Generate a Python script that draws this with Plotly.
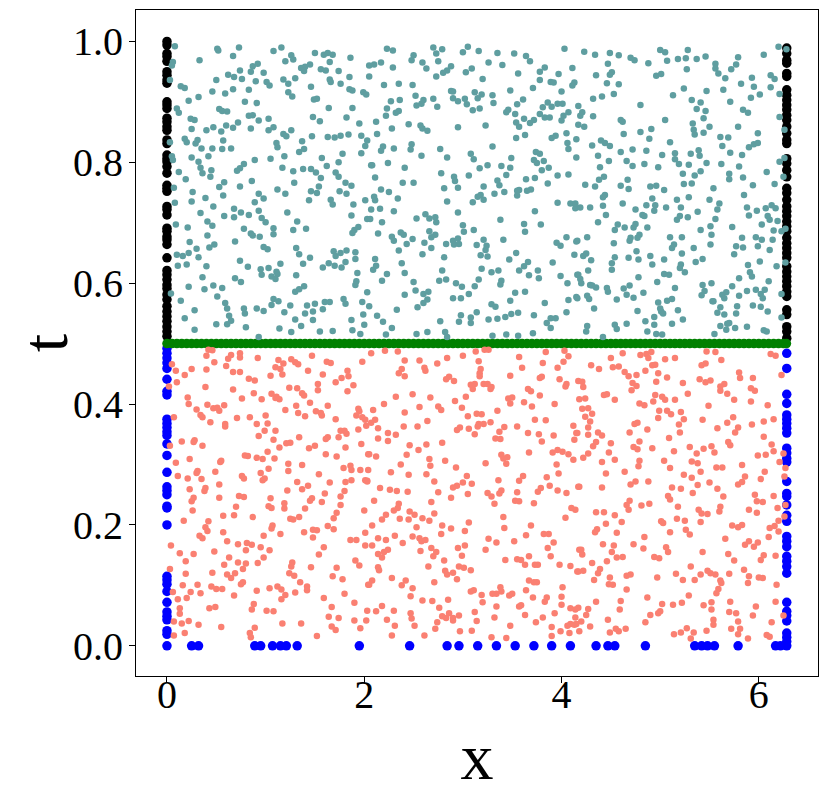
import plotly.graph_objects as go

# ---------------- data ----------------
X_MIN, X_MAX = 0.0, 6.2832
T_MID = 0.5
T_MIN = 0.0

# interior collocation points, t > 0.5  (x, t)
teal_xt = [
(0.08,0.992),(0.51,0.988),(0.52,0.985),(0.73,0.990),(1.08,0.984),(1.16,0.990),(1.50,0.981),(1.59,0.978),(1.63,0.981),(1.68,0.978),(1.26,0.977),(1.28,0.970),(1.20,0.967),(0.67,0.976),(0.33,0.969),(0.06,0.966),(0.05,0.960),(1.65,0.966),(1.86,0.973),(2.05,0.960),(0.92,0.963),(0.87,0.959),(0.85,0.950),(0.74,0.952),(0.62,0.945),(0.68,0.941),(0.76,0.938),(0.98,0.948),(1.36,0.956),(1.40,0.958),(1.45,0.962),(1.39,0.951),(1.56,0.954),(1.61,0.952),(1.74,0.951),(1.85,0.941),(2.05,0.942),(0.03,0.936),(0.50,0.936),(0.90,0.934),(1.01,0.933),(1.04,0.927),(1.18,0.937),(1.23,0.930),(1.30,0.939),(1.65,0.937),(1.66,0.933),(1.76,0.930),(1.46,0.925),(0.14,0.926),(0.18,0.923),(0.67,0.921),(0.83,0.920),(0.46,0.917),(0.59,0.914),(1.23,0.916),(1.27,0.909),(1.85,0.921),(1.88,0.919),(1.99,0.916),(2.02,0.912),(0.32,0.908),(0.22,0.902),(1.49,0.904),(1.52,0.905),(0.79,0.900),(0.91,0.898),(0.10,0.889),(0.12,0.882),(0.53,0.888),(0.56,0.885),(0.61,0.884),(1.64,0.890),(1.88,0.890),(0.83,0.877),(0.87,0.878),(0.93,0.869),(1.03,0.872),(1.48,0.875),(1.55,0.868),(1.82,0.874),(1.95,0.864),(0.24,0.872),(0.28,0.870),(0.72,0.866),(0.25,0.855),(0.40,0.853),(0.47,0.858),(0.55,0.851),(0.60,0.861),(0.67,0.857),(0.85,0.856),(1.03,0.853),(1.08,0.858),(1.18,0.847),(1.21,0.843),(1.26,0.853),(1.47,0.843),(1.63,0.842),(1.70,0.841),(1.76,0.844),(1.84,0.846),(1.97,0.844),(2.03,0.836),(0.18,0.839),(0.20,0.833),(0.29,0.831),(0.31,0.837),(0.03,0.833),(0.35,0.823),(0.46,0.823),(0.56,0.822),(0.65,0.823),(0.57,0.836),(1.11,0.832),(1.12,0.825),(1.37,0.835),(1.39,0.822),(1.34,0.817),(1.78,0.814),(1.97,0.815),(2.01,0.827),(0.25,0.808),(0.32,0.801),(0.42,0.810),(0.34,0.791),(0.36,0.782),(0.45,0.787),(0.44,0.776),(0.05,0.810),(0.06,0.804),(0.89,0.804),(1.05,0.806),(1.19,0.810),(1.57,0.807),(1.62,0.794),(1.74,0.800),(1.71,0.783),(1.74,0.776),(1.81,0.766),(1.87,0.761),(2.07,0.795),(0.78,0.797),(0.74,0.790),(0.71,0.786),(1.17,0.791),(1.28,0.785),(1.38,0.789),(1.46,0.789),(1.51,0.783),(1.56,0.774),(0.12,0.784),(0.19,0.772),(0.58,0.767),(0.86,0.769),(1.29,0.766),(0.74,0.760),(0.53,0.759),(1.12,0.755),(1.54,0.760),(0.07,0.758),
(2.23,0.988),(2.29,0.985),(2.70,0.990),(2.73,0.980),(2.79,0.987),(3.05,0.991),(3.00,0.982),(3.16,0.984),(3.35,0.981),(3.52,0.980),(3.64,0.976),(3.68,0.967),(4.03,0.988),(2.50,0.977),(2.48,0.969),(2.59,0.965),(2.63,0.955),(2.75,0.967),(2.17,0.965),(2.10,0.962),(2.29,0.957),(3.26,0.965),(3.40,0.961),(3.56,0.947),(3.78,0.950),(3.83,0.957),(3.97,0.946),(4.11,0.956),(3.03,0.949),(3.09,0.955),(2.88,0.959),(2.84,0.952),(2.80,0.948),(2.73,0.942),(3.20,0.938),(3.78,0.936),(3.89,0.933),(3.92,0.932),(4.13,0.932),(4.11,0.927),(2.35,0.930),(2.49,0.928),(2.20,0.928),(2.88,0.918),(2.90,0.917),(3.12,0.916),(3.19,0.912),(3.15,0.906),(3.30,0.911),(3.48,0.919),(3.71,0.923),(4.00,0.917),(2.52,0.910),(2.90,0.906),(2.95,0.901),(3.02,0.905),(3.04,0.896),(2.70,0.905),(2.74,0.892),(2.60,0.903),(2.58,0.897),(2.53,0.894),(2.27,0.901),(2.36,0.903),(3.31,0.898),(3.55,0.896),(3.61,0.904),(3.86,0.899),(3.90,0.892),(3.96,0.897),(4.01,0.897),(3.81,0.891),(4.17,0.893),(2.23,0.889),(2.22,0.877),(2.32,0.882),(2.35,0.885),(3.10,0.886),(3.17,0.889),(3.46,0.887),(3.44,0.883),(3.53,0.880),(3.62,0.872),(3.72,0.870),(3.78,0.880),(3.83,0.874),(3.88,0.874),(4.02,0.877),(4.00,0.869),(4.07,0.883),(4.19,0.877),(2.12,0.867),(2.45,0.863),(2.28,0.856),(2.57,0.861),(2.59,0.856),(2.64,0.852),(2.95,0.858),(3.23,0.861),(3.54,0.866),(3.57,0.859),(3.68,0.865),(4.17,0.862),(2.13,0.847),(3.54,0.840),(3.63,0.845),(3.90,0.840),(3.94,0.844),(4.05,0.848),(4.15,0.838),(2.19,0.826),(2.17,0.819),(2.30,0.823),(2.48,0.830),(2.47,0.821),(2.77,0.822),(2.58,0.811),(2.84,0.808),(3.30,0.826),(3.08,0.814),(3.11,0.805),(3.49,0.807),(3.74,0.817),(3.78,0.814),(3.72,0.804),(3.75,0.799),(3.82,0.802),(4.06,0.832),(4.07,0.822),(4.15,0.808),(2.08,0.795),(2.24,0.799),(2.41,0.791),(2.78,0.782),(3.17,0.790),(3.25,0.795),(3.39,0.794),(3.48,0.791),(3.44,0.779),(3.80,0.787),(3.87,0.791),(2.11,0.775),(2.39,0.766),(2.50,0.766),(2.91,0.776),(2.92,0.769),(3.06,0.778),(3.35,0.770),(3.37,0.762),(3.64,0.772),(3.73,0.774),(3.86,0.765),(3.96,0.778),(4.07,0.780),(2.17,0.755),(2.81,0.757),(2.95,0.758),(3.21,0.760),(3.57,0.754),(3.69,0.755),
(4.23,0.983),(4.34,0.978),(4.49,0.981),(4.58,0.977),(4.70,0.973),(4.74,0.969),(4.88,0.964),(4.47,0.963),(4.51,0.949),(4.49,0.945),(4.35,0.944),(4.46,0.931),(4.58,0.929),(4.53,0.913),(4.32,0.905),(4.41,0.909),(5.00,0.986),(5.05,0.982),(5.07,0.968),(5.18,0.971),(5.26,0.972),(5.28,0.986),(5.27,0.954),(5.37,0.971),(5.46,0.975),(4.96,0.943),(5.01,0.946),(5.56,0.963),(5.56,0.955),(5.59,0.947),(5.66,0.939),(5.72,0.954),(5.77,0.962),(5.79,0.974),(5.82,0.930),(5.93,0.940),(5.95,0.925),(5.92,0.907),(6.01,0.912),(6.05,0.978),(6.12,0.944),(6.16,0.938),(6.12,0.924),(6.20,0.991),(6.28,0.987),(6.21,0.913),(5.24,0.922),(5.47,0.918),(5.64,0.920),(5.13,0.911),(5.32,0.903),(5.41,0.899),(5.71,0.900),(4.80,0.895),(5.37,0.888),(5.46,0.885),(5.84,0.887),(5.89,0.882),(4.21,0.883),(4.32,0.876),(4.23,0.859),(4.60,0.870),(4.62,0.867),(5.05,0.870),(5.44,0.873),(5.33,0.864),(5.34,0.854),(5.35,0.846),(5.44,0.849),(5.50,0.859),(5.79,0.859),(6.21,0.875),(6.26,0.854),(4.63,0.847),(4.80,0.850),(4.91,0.855),(4.89,0.839),(5.10,0.833),(4.40,0.836),(4.44,0.832),(4.49,0.827),(4.31,0.828),(5.61,0.842),(5.69,0.841),(5.63,0.827),(5.90,0.825),(5.95,0.830),(5.99,0.832),(5.99,0.848),(4.37,0.811),(4.48,0.802),(4.60,0.817),(4.72,0.821),(4.86,0.819),(5.02,0.812),(5.15,0.815),(5.15,0.805),(5.19,0.797),(5.31,0.814),(5.39,0.820),(5.40,0.811),(5.47,0.799),(5.62,0.797),(5.71,0.816),(5.83,0.812),(4.39,0.792),(4.66,0.802),(4.72,0.794),(4.84,0.797),(4.98,0.792),(5.29,0.796),(5.41,0.785),(5.23,0.781),(5.35,0.778),(5.70,0.781),(5.70,0.772),(5.80,0.793),(5.84,0.775),(6.08,0.784),(6.21,0.801),(6.26,0.807),(6.25,0.776),(4.24,0.763),(4.34,0.760),(4.38,0.771),(4.43,0.776),(4.60,0.761),(4.67,0.771),(4.68,0.756),(4.90,0.760),(4.96,0.761),(5.24,0.764),(5.32,0.765),(5.54,0.757),(5.94,0.762),(6.16,0.764),
(0.26,0.751),(0.39,0.741),(0.57,0.745),(0.93,0.748),(0.98,0.740),(0.89,0.734),(1.20,0.748),(1.46,0.752),(1.52,0.749),(1.44,0.737),(1.66,0.738),(1.68,0.730),(1.75,0.752),(1.82,0.748),(1.89,0.730),(2.01,0.737),(0.08,0.733),(0.25,0.735),(0.34,0.716),(0.47,0.727),(0.58,0.711),(0.68,0.723),(0.68,0.709),(0.75,0.717),(0.83,0.713),(0.93,0.720),(0.96,0.708),(1.00,0.701),(1.22,0.717),(1.32,0.702),(1.28,0.688),(1.41,0.690),(1.87,0.712),(1.94,0.693),(1.90,0.688),(1.88,0.683),(2.03,0.706),(0.09,0.697),(0.21,0.692),(0.41,0.702),(0.46,0.695),(0.78,0.690),(0.85,0.682),(0.87,0.679),(0.94,0.677),(1.08,0.691),(1.08,0.681),(0.41,0.679),(0.23,0.668),(0.30,0.657),(0.43,0.659),(0.48,0.664),(0.69,0.669),(0.98,0.660),(1.02,0.656),(1.31,0.658),(1.34,0.648),(1.45,0.642),(1.69,0.653),(1.71,0.645),(1.76,0.650),(1.82,0.654),(1.91,0.651),(0.10,0.647),(0.16,0.645),(0.22,0.650),(0.32,0.643),(0.11,0.629),(0.20,0.631),(0.40,0.628),(0.74,0.637),(0.82,0.627),(0.95,0.623),(0.96,0.614),(1.03,0.625),(1.11,0.619),(1.15,0.632),(1.12,0.615),(1.06,0.611),(1.10,0.607),(1.38,0.632),(1.58,0.626),(1.64,0.633),(1.70,0.629),(1.77,0.626),(1.81,0.635),(1.91,0.640),(1.93,0.617),(0.36,0.610),(0.69,0.608),(0.75,0.602),(1.31,0.613),(1.92,0.603),(1.91,0.597),(0.04,0.583),(0.22,0.594),(0.38,0.590),(0.47,0.596),(0.56,0.592),(0.51,0.578),(1.30,0.586),(1.34,0.590),(1.39,0.595),(2.03,0.585),(0.14,0.571),(0.28,0.555),(0.59,0.567),(0.61,0.558),(0.78,0.558),(0.79,0.550),(0.91,0.558),(0.98,0.554),(1.06,0.564),(1.08,0.574),(1.13,0.570),(1.19,0.552),(1.25,0.563),(1.42,0.563),(1.50,0.566),(1.60,0.569),(1.65,0.569),(1.48,0.553),(1.58,0.557),(1.40,0.550),(1.79,0.574),(1.81,0.566),(1.98,0.569),(0.18,0.542),(0.28,0.523),(0.50,0.532),(0.63,0.546),(0.65,0.538),(0.61,0.532),(0.80,0.527),(0.93,0.511),(1.14,0.525),(1.26,0.519),(1.30,0.540),(1.36,0.529),(1.48,0.539),(1.55,0.520),(1.68,0.521),(1.87,0.539),(1.88,0.522),(1.96,0.516),(1.99,0.548),(2.00,0.531),
(2.25,0.751),(2.34,0.740),(2.10,0.743),(2.11,0.737),(2.84,0.735),(3.10,0.734),(3.15,0.743),(3.18,0.746),(3.21,0.738),(3.32,0.748),(3.42,0.751),(3.55,0.753),(3.65,0.753),(3.55,0.745),(3.96,0.733),(4.09,0.732),(4.14,0.724),(2.07,0.722),(2.16,0.723),(2.30,0.719),(2.06,0.706),(2.18,0.701),(2.53,0.707),(2.62,0.714),(2.66,0.707),(2.72,0.709),(2.73,0.701),(2.95,0.717),(3.00,0.696),(3.11,0.688),(3.01,0.685),(3.38,0.705),(3.62,0.698),(3.63,0.685),(3.73,0.719),(3.79,0.697),(2.14,0.682),(2.28,0.677),(2.30,0.670),(2.37,0.684),(2.40,0.680),(2.49,0.673),(2.43,0.665),(2.35,0.654),(2.61,0.667),(2.66,0.686),(2.72,0.680),(2.68,0.676),(2.68,0.658),(2.59,0.648),(2.83,0.665),(2.90,0.670),(2.91,0.664),(2.95,0.674),(2.96,0.665),(3.14,0.663),(3.21,0.672),(3.24,0.662),(3.23,0.655),(3.18,0.646),(3.25,0.644),(3.41,0.672),(3.95,0.667),(3.99,0.662),(4.05,0.676),(4.16,0.670),(2.11,0.640),(2.12,0.629),(2.09,0.622),(2.23,0.615),(2.18,0.604),(2.38,0.633),(2.41,0.617),(2.81,0.643),(2.79,0.621),(2.76,0.604),(2.83,0.606),(3.19,0.624),(3.29,0.618),(3.36,0.621),(3.39,0.604),(3.38,0.598),(3.47,0.639),(3.54,0.650),(3.62,0.628),(3.57,0.621),(3.66,0.635),(3.67,0.613),(3.76,0.621),(3.77,0.608),(3.91,0.634),(3.99,0.612),(4.13,0.647),(4.16,0.614),(4.06,0.600),(2.50,0.602),(2.52,0.588),(2.60,0.582),(2.65,0.586),(2.64,0.573),(2.60,0.567),(2.54,0.560),(2.41,0.581),(2.05,0.562),(2.33,0.556),(2.93,0.600),(2.99,0.594),(3.06,0.582),(3.12,0.595),(3.16,0.606),(2.90,0.575),(2.98,0.575),(3.48,0.571),(3.53,0.584),(3.63,0.586),(3.83,0.567),(4.07,0.572),(4.16,0.575),(4.05,0.552),(2.13,0.546),(2.19,0.536),(2.28,0.526),(2.22,0.515),(2.53,0.516),(2.64,0.519),(2.77,0.537),(2.82,0.519),(2.84,0.511),(2.98,0.547),(2.96,0.536),(3.08,0.543),(3.08,0.534),(3.14,0.552),(3.29,0.565),(3.33,0.561),(3.26,0.540),(3.35,0.541),(3.43,0.544),(3.49,0.549),(3.56,0.551),(3.72,0.547),(3.30,0.513),(3.44,0.515),(3.56,0.513),(3.71,0.517),(3.85,0.534),(3.89,0.542),(3.94,0.542),(3.89,0.526),
(4.44,0.746),(4.42,0.742),(5.04,0.754),(4.14,0.732),(4.19,0.725),(4.29,0.725),(4.42,0.728),(4.45,0.713),(4.62,0.732),(4.75,0.722),(4.82,0.713),(4.84,0.711),(4.86,0.729),(4.92,0.740),(4.95,0.729),(4.94,0.720),(5.06,0.725),(5.17,0.738),(5.21,0.725),(5.29,0.742),(5.17,0.705),(5.20,0.711),(5.28,0.709),(5.38,0.718),(5.50,0.738),(5.60,0.732),(5.58,0.722),(5.56,0.706),(5.51,0.694),(5.52,0.680),(5.41,0.688),(5.73,0.693),(5.85,0.746),(5.88,0.725),(5.98,0.720),(6.07,0.724),(6.13,0.729),(6.17,0.724),(6.09,0.711),(6.11,0.705),(6.19,0.703),(5.90,0.712),(6.03,0.697),(6.15,0.687),(6.27,0.690),(6.23,0.686),(4.37,0.701),(4.54,0.688),(4.57,0.697),(4.64,0.692),(4.75,0.698),(4.73,0.692),(4.79,0.680),(4.70,0.675),(4.69,0.670),(4.77,0.675),(4.87,0.692),(5.10,0.676),(5.22,0.676),(4.26,0.676),(4.15,0.669),(4.53,0.666),(5.14,0.664),(5.12,0.658),(5.34,0.658),(5.51,0.664),(5.83,0.675),(5.97,0.676),(6.03,0.672),(5.99,0.661),(6.14,0.672),(5.77,0.661),(5.75,0.648),(5.84,0.659),(6.11,0.655),(4.22,0.645),(4.25,0.649),(4.30,0.638),(4.54,0.643),(4.51,0.633),(4.51,0.622),(4.68,0.642),(4.76,0.653),(4.78,0.639),(4.90,0.645),(4.92,0.631),(5.04,0.639),(5.22,0.649),(5.21,0.631),(5.20,0.625),(5.25,0.618),(5.36,0.635),(5.43,0.640),(6.01,0.636),(5.89,0.630),(5.91,0.618),(5.93,0.611),(6.18,0.628),(6.27,0.634),(4.17,0.614),(4.19,0.607),(4.20,0.600),(4.27,0.621),(4.29,0.597),(4.35,0.593),(4.31,0.596),(4.15,0.577),(4.26,0.579),(4.28,0.574),(4.46,0.592),(4.47,0.586),(4.56,0.573),(4.63,0.591),(4.69,0.596),(4.66,0.581),(4.73,0.576),(4.78,0.610),(4.83,0.584),(4.97,0.602),(5.04,0.615),(5.09,0.614),(5.15,0.592),(5.43,0.597),(5.52,0.600),(5.45,0.587),(5.42,0.580),(5.54,0.570),(5.63,0.581),(5.67,0.585),(5.65,0.575),(5.73,0.595),(5.80,0.608),(5.80,0.579),(5.88,0.587),(5.97,0.589),(6.02,0.582),(6.06,0.589),(6.04,0.575),(6.10,0.603),(6.23,0.582),(4.33,0.558),(4.54,0.531),(4.56,0.524),(4.66,0.533),(4.77,0.554),(4.85,0.537),(4.87,0.520),(4.94,0.544),(4.94,0.531),(4.96,0.516),(4.98,0.568),(5.00,0.558),(5.01,0.553),(5.03,0.550),(5.07,0.571),(5.12,0.574),(5.18,0.555),(5.23,0.540),(5.12,0.533),(5.02,0.515),(5.53,0.570),(5.55,0.516),(5.58,0.551),(5.61,0.560),(5.65,0.548),(5.61,0.529),(5.68,0.533),(5.70,0.534),(5.67,0.523),(5.76,0.526),(5.77,0.550),(5.78,0.562),(5.88,0.528),(5.94,0.563),(6.02,0.561),(6.09,0.553),(6.23,0.543),(6.05,0.522),(6.08,0.520),(4.26,0.529),(4.25,0.520),(4.42,0.511),
]

# interior collocation points, t < 0.5  (x, t)
salmon_xt = [
(0.42,0.490),(0.46,0.489),(0.40,0.480),(0.62,0.475),(0.65,0.481),(0.74,0.484),(0.74,0.477),(0.92,0.476),(0.05,0.466),(0.09,0.455),(0.25,0.458),(0.18,0.448),(0.40,0.457),(0.48,0.469),(0.60,0.463),(0.67,0.453),(0.74,0.453),(1.10,0.461),(1.13,0.473),(1.18,0.467),(1.15,0.458),(1.17,0.449),(1.05,0.447),(1.26,0.474),(1.30,0.469),(1.33,0.466),(1.43,0.455),(1.47,0.480),(1.62,0.470),(1.66,0.468),(1.58,0.449),(1.83,0.455),(1.84,0.446),(1.98,0.470),(1.77,0.443),(1.71,0.436),(1.89,0.431),(1.83,0.421),(0.10,0.436),(0.02,0.429),(0.39,0.428),(0.67,0.424),(0.83,0.442),(0.89,0.439),(0.88,0.418),(0.96,0.408),(1.06,0.417),(1.11,0.412),(1.14,0.408),(1.24,0.427),(1.32,0.426),(1.37,0.418),(1.39,0.414),(1.53,0.433),(1.53,0.423),(0.21,0.411),(0.22,0.400),(0.30,0.391),(0.41,0.399),(0.47,0.393),(0.53,0.389),(0.51,0.394),(0.58,0.398),(0.76,0.409),(0.07,0.378),(0.34,0.382),(0.36,0.378),(0.44,0.370),(0.59,0.367),(0.59,0.363),(0.71,0.377),(0.84,0.378),(0.91,0.367),(1.00,0.381),(1.02,0.368),(1.10,0.410),(1.20,0.390),(1.31,0.397),(1.33,0.385),(1.40,0.380),(1.45,0.402),(1.51,0.388),(1.56,0.385),(1.57,0.381),(1.63,0.397),(1.71,0.375),(1.94,0.392),(1.95,0.388),(1.92,0.381),(1.98,0.378),(2.01,0.374),(2.02,0.364),(1.94,0.358),(1.76,0.356),(1.80,0.356),(1.82,0.351),(1.74,0.345),(1.63,0.345),(1.61,0.342),(1.34,0.345),(1.25,0.336),(1.21,0.335),(1.14,0.328),(1.08,0.341),(0.99,0.356),(0.93,0.347),(1.10,0.356),(0.15,0.338),(0.28,0.340),(0.27,0.337),(0.36,0.331),(0.03,0.331),(0.23,0.309),(0.09,0.303),(0.54,0.304),(0.55,0.306),(0.79,0.315),(0.82,0.314),(0.91,0.311),(0.97,0.309),(1.02,0.321),(1.09,0.310),(1.23,0.301),(1.23,0.289),(1.37,0.299),(1.44,0.327),(1.50,0.331),(1.61,0.317),(1.72,0.313),(1.81,0.328),(1.97,0.334),(2.04,0.317),(0.11,0.281),(0.21,0.277),(0.30,0.286),(0.31,0.289),(0.35,0.276),(0.49,0.288),(0.53,0.267),(0.76,0.281),(0.78,0.277),(0.95,0.286),(1.03,0.293),(0.99,0.277),(0.97,0.274),(0.23,0.259),(0.39,0.261),(0.38,0.256),(0.27,0.245),(0.53,0.245),(0.73,0.248),(0.78,0.246),(1.22,0.257),(1.32,0.271),(1.37,0.259),(1.43,0.265),(1.54,0.284),(1.60,0.252),(1.65,0.270),(1.79,0.294),(1.86,0.298),(1.87,0.291),(1.96,0.291),(2.04,0.291),(1.81,0.271),(1.87,0.274),(2.01,0.274),(2.03,0.272),(1.80,0.256),(1.76,0.247),(1.47,0.244),(1.05,0.244),
(2.07,0.484),(2.21,0.488),(2.34,0.487),(2.41,0.472),(2.38,0.458),(2.35,0.451),(2.41,0.446),(2.56,0.472),(2.61,0.460),(2.62,0.455),(2.74,0.467),(2.84,0.476),(3.00,0.480),(3.13,0.487),(3.22,0.490),(3.26,0.490),(3.16,0.471),(3.18,0.458),(3.17,0.451),(3.17,0.446),(2.83,0.441),(2.86,0.445),(2.91,0.438),(3.08,0.432),(3.12,0.433),(3.10,0.425),(3.21,0.433),(3.25,0.433),(3.28,0.425),(3.29,0.428),(3.57,0.478),(3.60,0.460),(3.48,0.447),(3.81,0.468),(3.84,0.486),(4.03,0.488),(4.07,0.479),(4.02,0.470),(3.96,0.460),(3.78,0.443),(3.80,0.445),(3.98,0.441),(4.05,0.433),(4.04,0.429),(3.66,0.425),(3.69,0.421),(3.78,0.414),(4.17,0.438),(2.32,0.412),(2.49,0.416),(2.67,0.411),(2.20,0.400),(2.56,0.395),(2.75,0.396),(2.78,0.390),(2.92,0.405),(2.99,0.394),(3.03,0.412),(3.46,0.409),(3.48,0.401),(3.50,0.411),(3.62,0.403),(3.70,0.396),(3.93,0.400),(2.09,0.390),(2.41,0.386),(2.07,0.369),(2.11,0.374),(2.14,0.360),(2.24,0.352),(2.32,0.349),(2.14,0.343),(2.24,0.339),(2.40,0.363),(2.54,0.363),(2.64,0.372),(2.94,0.357),(2.97,0.361),(3.06,0.359),(3.05,0.380),(3.14,0.384),(3.19,0.383),(3.16,0.367),(3.15,0.363),(3.21,0.367),(3.28,0.370),(3.12,0.350),(3.35,0.389),(3.37,0.354),(3.42,0.362),(3.33,0.343),(3.38,0.342),(3.55,0.363),(3.66,0.352),(3.73,0.374),(3.77,0.350),(3.80,0.338),(3.84,0.373),(3.92,0.348),(4.12,0.364),(4.15,0.352),(4.13,0.341),(2.46,0.332),(2.55,0.324),(2.63,0.333),(2.79,0.336),(2.05,0.317),(2.12,0.313),(2.43,0.316),(2.37,0.300),(2.66,0.309),(2.67,0.298),(2.82,0.306),(2.93,0.295),(3.23,0.302),(3.39,0.316),(3.41,0.310),(3.45,0.312),(3.44,0.301),(3.67,0.320),(3.91,0.320),(3.96,0.324),(4.01,0.321),(4.07,0.317),(4.12,0.308),(3.95,0.300),(3.97,0.285),(2.27,0.287),(2.45,0.283),(2.63,0.284),(2.71,0.272),(3.04,0.281),(3.09,0.268),(3.00,0.270),(2.94,0.265),(2.90,0.262),(3.36,0.274),(3.57,0.273),(3.61,0.281),(3.85,0.279),(3.88,0.265),(2.16,0.261),(2.26,0.258),(2.33,0.256),(2.44,0.255),(2.75,0.254),(2.88,0.245),(3.05,0.251),(3.25,0.253),(3.29,0.247),(3.37,0.252),(3.39,0.257),(3.55,0.254),(3.76,0.255),(3.79,0.261),(3.96,0.257),(4.05,0.253),(4.17,0.263),(2.03,0.273),
(4.62,0.484),(4.80,0.481),(4.86,0.483),(4.91,0.486),(4.88,0.476),(4.50,0.476),(4.30,0.464),(4.38,0.458),(4.52,0.461),(4.58,0.462),(4.64,0.453),(4.68,0.446),(4.76,0.448),(4.85,0.455),(4.92,0.464),(4.95,0.465),(4.98,0.451),(5.05,0.474),(5.15,0.476),(5.07,0.444),(4.96,0.437),(4.72,0.435),(4.76,0.430),(4.71,0.423),(5.47,0.487),(5.56,0.486),(5.62,0.473),(5.42,0.464),(5.46,0.467),(5.40,0.441),(5.46,0.436),(5.51,0.439),(5.61,0.429),(5.65,0.433),(5.61,0.422),(5.68,0.417),(5.80,0.452),(5.81,0.443),(5.94,0.443),(5.92,0.426),(5.96,0.422),(6.12,0.483),(6.17,0.480),(6.23,0.448),(4.21,0.437),(4.22,0.428),(4.18,0.408),(4.24,0.409),(4.43,0.415),(4.46,0.416),(4.54,0.407),(4.79,0.401),(4.84,0.398),(4.93,0.404),(4.95,0.415),(5.02,0.412),(5.05,0.407),(5.15,0.407),(5.07,0.389),(4.99,0.389),(4.98,0.377),(5.11,0.383),(5.21,0.387),(5.24,0.375),(5.28,0.417),(5.23,0.435),(5.49,0.397),(5.43,0.374),(5.75,0.407),(5.92,0.404),(6.09,0.398),(4.21,0.392),(4.27,0.393),(4.31,0.384),(4.24,0.379),(4.29,0.371),(4.27,0.361),(4.16,0.352),(4.27,0.349),(4.37,0.353),(4.41,0.348),(4.74,0.367),(4.77,0.369),(4.69,0.353),(4.87,0.358),(5.19,0.366),(5.20,0.353),(5.09,0.344),(5.58,0.360),(5.68,0.369),(5.74,0.378),(5.79,0.361),(5.76,0.353),(5.93,0.366),(6.05,0.371),(6.15,0.375),(6.05,0.346),(6.13,0.333),(5.69,0.337),(5.71,0.332),(5.52,0.330),(5.44,0.326),(5.55,0.320),(5.30,0.329),(5.37,0.318),(5.32,0.305),(5.38,0.302),(5.14,0.322),(5.04,0.306),(4.92,0.327),(4.79,0.338),(4.73,0.329),(4.77,0.325),(4.50,0.335),(4.48,0.320),(4.54,0.308),(4.35,0.337),(4.32,0.330),(4.27,0.318),(4.22,0.311),(4.41,0.304),(4.45,0.285),(4.64,0.288),(4.78,0.297),(4.79,0.306),(5.10,0.294),(5.24,0.283),(5.32,0.278),(5.41,0.288),(5.57,0.295),(5.63,0.295),(5.83,0.299),(5.86,0.280),(5.99,0.315),(6.07,0.316),(6.15,0.322),(6.21,0.304),(6.25,0.318),(6.27,0.294),(6.06,0.288),(6.02,0.276),(6.26,0.280),(4.18,0.263),(4.41,0.262),(4.70,0.267),(4.75,0.272),(4.88,0.272),(5.12,0.262),(5.21,0.260),(5.33,0.253),(5.38,0.266),(5.50,0.270),(5.58,0.260),(5.64,0.247),(5.79,0.267),(5.83,0.271),(5.96,0.250),(6.15,0.248),(5.08,0.248),
(0.25,0.239),(0.26,0.224),(0.70,0.230),(0.68,0.216),(0.57,0.215),(0.87,0.213),(1.03,0.231),(1.06,0.228),(1.19,0.236),(1.19,0.227),(1.40,0.227),(1.45,0.240),(1.57,0.238),(1.72,0.220),(1.76,0.233),(1.69,0.211),(1.63,0.198),(1.69,0.193),(2.00,0.224),(2.01,0.187),(1.25,0.210),(1.28,0.209),(1.34,0.213),(1.39,0.188),(1.48,0.192),(1.52,0.191),(1.48,0.179),(1.07,0.199),(1.06,0.194),(1.15,0.185),(0.98,0.182),(0.17,0.207),(0.42,0.206),(0.39,0.196),(0.41,0.190),(0.33,0.182),(0.36,0.178),(0.57,0.188),(0.61,0.173),(0.72,0.168),(0.81,0.170),(0.86,0.167),(0.95,0.163),(1.04,0.158),(0.80,0.158),(0.04,0.166),(0.13,0.153),(0.27,0.152),(0.48,0.156),(0.63,0.146),(0.72,0.138),(0.80,0.136),(0.92,0.137),(0.98,0.146),(1.27,0.138),(1.26,0.131),(1.24,0.120),(1.29,0.116),(1.46,0.130),(1.54,0.151),(1.59,0.163),(1.86,0.175),(1.92,0.175),(2.01,0.166),(1.91,0.141),(1.95,0.133),(1.72,0.129),(1.68,0.115),(1.78,0.110),(0.19,0.140),(0.19,0.119),(0.03,0.127),(0.46,0.121),(0.58,0.134),(0.61,0.118),(0.65,0.112),(0.69,0.120),(0.77,0.127),(0.77,0.105),(0.75,0.102),(1.35,0.105),(1.42,0.098),(1.42,0.092),(1.30,0.088),(1.04,0.095),(1.12,0.098),(1.16,0.093),(1.20,0.084),(1.16,0.077),(0.91,0.091),(0.50,0.094),(0.45,0.098),(0.56,0.094),(0.16,0.100),(0.31,0.101),(0.24,0.089),(0.34,0.087),(0.06,0.089),(0.11,0.077),(0.20,0.079),(0.68,0.083),(0.88,0.069),(0.86,0.060),(0.43,0.062),(0.49,0.064),(0.13,0.062),(0.13,0.053),(0.07,0.040),(0.15,0.037),(0.22,0.041),(0.32,0.035),(0.18,0.021),(0.07,0.017),(0.55,0.031),(0.89,0.030),(0.84,0.021),(0.85,0.014),(1.01,0.058),(1.08,0.057),(1.17,0.037),(1.36,0.037),(1.52,0.016),(1.59,0.079),(1.67,0.064),(1.64,0.048),(1.74,0.046),(1.67,0.032),(1.71,0.026),(1.80,0.086),(1.90,0.071),(1.90,0.042),(1.96,0.029),(2.02,0.042),(2.03,0.058),(2.04,0.101),
(2.10,0.240),(2.35,0.235),(2.34,0.228),(2.68,0.238),(3.32,0.235),(3.53,0.240),(3.57,0.239),(3.72,0.236),(4.10,0.228),(4.14,0.225),(2.18,0.209),(2.22,0.217),(2.30,0.224),(2.36,0.210),(2.45,0.209),(2.46,0.222),(2.51,0.217),(2.59,0.211),(2.66,0.207),(2.71,0.219),(2.79,0.199),(2.88,0.194),(3.02,0.190),(3.06,0.204),(2.53,0.196),(2.49,0.181),(2.56,0.178),(2.58,0.173),(2.62,0.175),(2.57,0.157),(2.68,0.162),(2.70,0.148),(2.73,0.155),(2.78,0.185),(2.39,0.170),(2.31,0.182),(2.22,0.175),(2.14,0.178),(2.08,0.199),(2.08,0.166),(2.14,0.152),(2.18,0.146),(2.20,0.155),(2.24,0.159),(3.41,0.213),(3.42,0.195),(3.64,0.183),(3.69,0.199),(3.82,0.185),(3.87,0.185),(3.92,0.171),(3.86,0.162),(3.89,0.148),(4.04,0.212),(4.18,0.159),(3.98,0.134),(4.09,0.132),(4.16,0.123),(3.52,0.173),(3.34,0.171),(3.26,0.177),(3.23,0.159),(3.43,0.142),(3.55,0.143),(3.59,0.142),(3.67,0.148),(3.63,0.134),(3.73,0.134),(3.76,0.134),(2.95,0.162),(3.02,0.166),(2.99,0.149),(2.81,0.141),(2.65,0.131),(2.82,0.124),(2.84,0.118),(2.90,0.121),(2.96,0.131),(3.01,0.129),(3.08,0.125),(2.94,0.110),(2.71,0.105),(2.42,0.108),(2.38,0.100),(2.28,0.112),(2.14,0.130),(2.15,0.125),(2.08,0.108),(2.05,0.101),(2.49,0.095),(2.47,0.082),(2.59,0.075),(2.69,0.074),(2.76,0.063),(2.79,0.049),(2.83,0.046),(2.86,0.054),(2.90,0.046),(2.90,0.042),(2.96,0.050),(2.85,0.076),(3.08,0.090),(3.11,0.092),(3.19,0.084),(3.20,0.072),(3.30,0.086),(3.34,0.086),(3.39,0.090),(3.47,0.083),(3.50,0.086),(3.38,0.097),(3.67,0.108),(3.72,0.105),(3.75,0.105),(3.64,0.092),(3.71,0.080),(3.83,0.073),(3.85,0.080),(4.01,0.097),(4.00,0.081),(4.00,0.068),(4.09,0.062),(4.14,0.060),(4.17,0.063),(3.57,0.065),(3.59,0.067),(3.34,0.065),(3.32,0.047),(3.63,0.051),(3.81,0.047),(3.93,0.054),(4.14,0.047),(4.09,0.036),(4.13,0.035),(4.06,0.033),(3.90,0.031),(3.99,0.024),(4.08,0.021),(3.90,0.016),(3.74,0.039),(3.48,0.033),(3.44,0.013),(3.29,0.014),(3.12,0.056),(3.14,0.041),(3.09,0.025),(2.97,0.024),(2.74,0.039),(2.72,0.028),(2.61,0.017),(2.51,0.033),(2.48,0.045),(2.47,0.054),(2.30,0.058),(2.12,0.057),(2.18,0.066),(2.23,0.043),(2.31,0.033),(2.28,0.017),
(4.35,0.221),(4.43,0.221),(4.54,0.216),(4.66,0.233),(4.69,0.240),(4.68,0.225),(4.81,0.232),(4.89,0.235),(5.10,0.242),(5.18,0.230),(5.17,0.210),(5.25,0.207),(5.26,0.192),(5.30,0.184),(5.42,0.219),(5.41,0.205),(5.48,0.218),(5.39,0.225),(5.61,0.230),(5.60,0.222),(5.90,0.225),(5.98,0.220),(5.98,0.239),(6.04,0.238),(6.19,0.228),(6.20,0.207),(6.26,0.214),(4.45,0.202),(4.61,0.205),(4.56,0.187),(4.36,0.193),(4.34,0.188),(5.01,0.206),(5.03,0.203),(5.10,0.188),(4.84,0.180),(4.73,0.168),(4.83,0.161),(4.42,0.168),(4.53,0.166),(4.51,0.155),(4.20,0.159),(4.21,0.151),(4.56,0.146),(4.62,0.147),(4.94,0.147),(4.99,0.145),(5.06,0.163),(5.08,0.155),(5.43,0.155),(5.66,0.177),(5.69,0.152),(5.73,0.199),(5.79,0.196),(5.83,0.200),(5.90,0.173),(5.86,0.167),(5.95,0.164),(5.99,0.171),(6.11,0.195),(6.16,0.198),(6.20,0.189),(6.10,0.180),(6.17,0.149),(6.05,0.150),(6.02,0.142),(5.75,0.141),(5.85,0.126),(4.31,0.137),(4.46,0.140),(4.17,0.123),(4.22,0.124),(4.39,0.127),(4.37,0.120),(4.33,0.109),(4.49,0.113),(4.48,0.102),(4.52,0.101),(4.66,0.116),(4.70,0.118),(4.97,0.113),(5.16,0.119),(5.23,0.109),(5.31,0.131),(5.35,0.109),(5.41,0.118),(5.48,0.124),(5.51,0.120),(5.56,0.118),(5.61,0.108),(5.70,0.119),(5.62,0.104),(5.59,0.094),(5.57,0.087),(5.90,0.115),(5.89,0.104),(6.00,0.113),(6.04,0.112),(6.18,0.101),(4.66,0.093),(4.87,0.080),(5.02,0.069),(5.13,0.068),(5.22,0.071),(5.29,0.083),(5.44,0.067),(5.52,0.072),(5.52,0.060),(5.54,0.043),(5.54,0.035),(4.35,0.073),(4.27,0.061),(4.25,0.051),(4.60,0.074),(4.59,0.060),(4.47,0.043),(4.29,0.032),(4.18,0.024),(4.15,0.036),(4.49,0.022),(4.55,0.028),(4.58,0.024),(4.65,0.028),(4.85,0.039),(4.90,0.051),(4.98,0.054),(5.00,0.057),(5.14,0.019),(5.21,0.022),(5.27,0.029),(5.34,0.022),(5.31,0.012),(5.47,0.025),(5.71,0.073),(5.70,0.056),(5.77,0.054),(5.79,0.040),(5.72,0.028),(5.81,0.028),(5.79,0.019),(5.89,0.012),(5.97,0.065),(5.94,0.050),(6.17,0.073),(6.25,0.050),(6.13,0.039),(6.08,0.018),(6.11,0.015),(6.27,0.233),(4.20,0.040),
]

# boundary points: x = 0 and x = 2*pi below t = 0.5, and t = 0 (blue)
blue_left_t = [0.492,0.484,0.476,0.468,0.459,0.441,0.421,0.415,0.375,0.368,0.361,0.354,0.348,0.334,0.315,0.287,0.263,0.257,0.250,0.231,0.228,0.200,0.115,0.109,0.102,0.090,0.072,0.056,0.049,0.043,0.025,0.019,0.000]
blue_right_t = [0.484,0.459,0.416,0.401,0.382,0.375,0.368,0.360,0.352,0.327,0.319,0.310,0.304,0.272,0.252,0.247,0.233,0.216,0.206,0.181,0.173,0.164,0.148,0.140,0.131,0.120,0.072,0.057,0.050,0.041,0.021,0.014,0.007,0.000]
blue_bottom_x = [0.25,0.32,0.89,0.95,1.07,1.15,1.21,1.32,1.95,2.46,2.84,2.96,3.15,3.34,3.53,3.72,3.90,4.09,4.35,4.47,4.54,4.85,5.35,5.42,5.48,5.55,5.79,6.17,6.22]

# boundary points above t = 0.5 (black)
black_left_t = [1.000,0.994,0.980,0.975,0.967,0.950,0.944,0.936,0.931,0.900,0.895,0.889,0.873,0.867,0.859,0.853,0.837,0.831,0.812,0.806,0.801,0.793,0.782,0.762,0.757,0.752,0.727,0.722,0.713,0.691,0.686,0.677,0.672,0.664,0.642,0.621,0.614,0.606,0.597,0.591,0.581,0.573,0.562,0.553,0.545,0.537,0.528,0.520,0.512]
black_right_t = [0.989,0.980,0.969,0.964,0.947,0.942,0.920,0.911,0.903,0.895,0.887,0.878,0.870,0.859,0.848,0.837,0.831,0.806,0.798,0.787,0.776,0.757,0.749,0.738,0.727,0.719,0.711,0.702,0.694,0.686,0.675,0.666,0.658,0.650,0.642,0.628,0.619,0.611,0.603,0.595,0.586,0.578,0.556,0.548,0.528,0.520,0.509]

# interface points at t = 0.5 (green)
green_x = [0.00,0.05,0.10,0.15,0.20,0.25,0.30,0.35,0.40,0.45,0.50,0.55,0.60,0.65,0.70,0.75,0.80,0.85,0.90,0.95,
1.00,1.05,1.10,1.15,1.20,1.25,1.30,1.35,1.40,1.45,1.50,1.55,1.60,1.65,1.70,1.75,1.80,1.85,1.90,1.95,
2.00,2.05,2.10,2.15,2.20,2.25,2.30,2.35,2.40,2.45,2.50,2.55,2.60,2.65,2.70,2.75,2.80,2.85,2.90,2.95,
3.00,3.05,3.10,3.15,3.20,3.25,3.30,3.35,3.40,3.45,3.50,3.55,3.60,3.65,3.70,3.75,3.80,3.85,3.90,3.95,
4.00,4.05,4.10,4.15,4.20,4.25,4.30,4.35,4.40,4.45,4.50,4.55,4.60,4.65,4.70,4.75,4.80,4.85,4.90,4.95,
5.00,5.05,5.10,5.15,5.20,5.25,5.30,5.35,5.40,5.45,5.50,5.55,5.60,5.65,5.70,5.75,5.80,5.85,5.90,5.95,
6.00,6.05,6.10,6.15,6.20,6.25,6.28]

x_ticks = [0, 2, 4, 6]
t_ticks = [0.0, 0.2, 0.4, 0.6, 0.8, 1.0]

# ---------------- figure ----------------
teal_x = [p[0] for p in teal_xt]; teal_t = [p[1] for p in teal_xt]
salmon_x = [p[0] for p in salmon_xt]; salmon_t = [p[1] for p in salmon_xt]

blue_x = [X_MIN]*len(blue_left_t) + [X_MAX]*len(blue_right_t) + blue_bottom_x
blue_t = blue_left_t + blue_right_t + [T_MIN]*len(blue_bottom_x)
black_x = [X_MIN]*len(black_left_t) + [X_MAX]*len(black_right_t)
black_t = black_left_t + black_right_t
green_t = [T_MID]*len(green_x)

BIG = 9.5
SMALL = 6.5
fig = go.Figure()
fig.add_trace(go.Scatter(x=blue_x, y=blue_t, mode="markers",
                         marker=dict(color="#0000ff", size=BIG, line=dict(width=0))))
fig.add_trace(go.Scatter(x=black_x, y=black_t, mode="markers",
                         marker=dict(color="#000000", size=BIG, line=dict(width=0))))
fig.add_trace(go.Scatter(x=green_x, y=green_t, mode="markers",
                         marker=dict(color="#008000", size=BIG, line=dict(width=0))))
fig.add_trace(go.Scatter(x=teal_x, y=teal_t, mode="markers",
                         marker=dict(color="#5f9ea0", size=SMALL, line=dict(width=0))))
fig.add_trace(go.Scatter(x=salmon_x, y=salmon_t, mode="markers",
                         marker=dict(color="#fa8072", size=SMALL, line=dict(width=0))))

FONT = "Liberation Serif, DejaVu Serif, serif"
axis_common = dict(showline=True, linecolor="black", linewidth=1.2, mirror=True,
                   showgrid=False, zeroline=False, ticks="outside", ticklen=6,
                   tickwidth=1.2, tickcolor="black", automargin=False,
                   tickfont=dict(family=FONT, size=40, color="black"))
# the page body adds an 8 px offset, so the figure is sized 8 px smaller
fig.update_layout(
    width=822, height=791,
    margin=dict(l=128, r=12, t=2, b=123),
    paper_bgcolor="white", plot_bgcolor="white",
    showlegend=False,
    font=dict(family=FONT, color="black"),
    xaxis=dict(range=[-0.314, 6.60], tickvals=x_ticks, ticktext=[str(v) for v in x_ticks],
               ticklabelstandoff=-23,
               title=dict(text="x", font=dict(family=FONT, size=66), standoff=16),
               **axis_common),
    yaxis=dict(range=[-0.05, 1.052], tickvals=t_ticks, ticktext=[f"{v:.1f}" for v in t_ticks],
               ticklabelstandoff=-2,
               title=dict(text="t", font=dict(family=FONT, size=66), standoff=17),
               **axis_common),
)
fig.write_html("out.html")
